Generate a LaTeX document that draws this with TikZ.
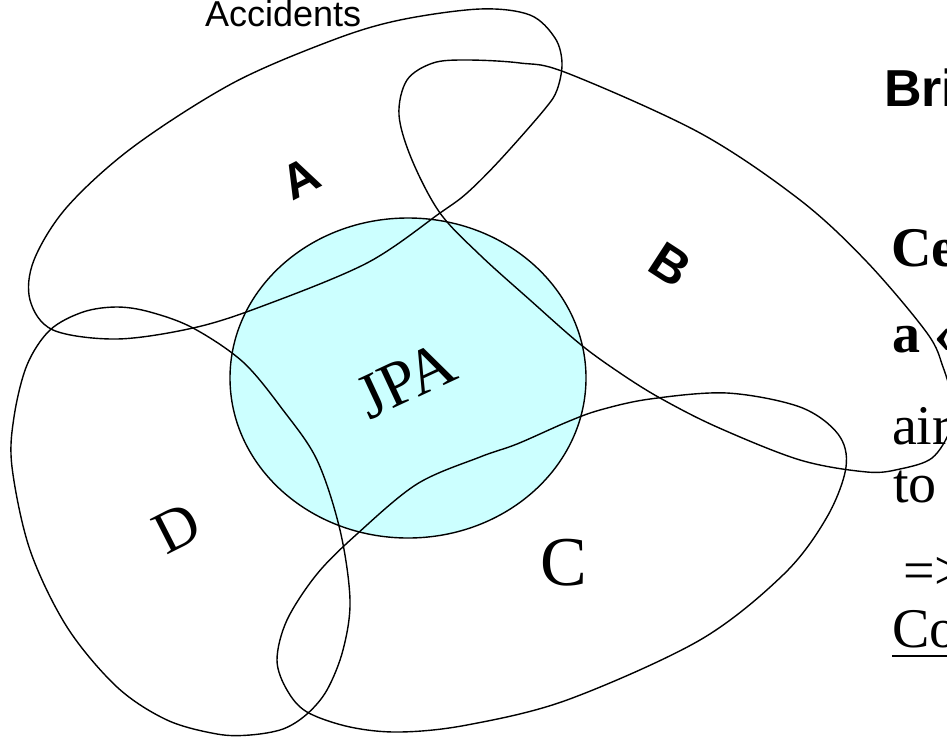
\documentclass[tikz,border=0pt]{standalone}
\usepackage{fontspec}
\newfontfamily\arialf{Liberation Sans}
\newfontfamily\timesf{Liberation Serif}
\definecolor{jpacyan}{RGB}{204,255,255}
\begin{document}
\begin{tikzpicture}[x=1pt,y=-1pt,
  curve/.style={line width=1.4pt, draw=black, line join=round},
  lbl/.style={inner sep=0pt, outer sep=0pt},
  sansbig/.style={lbl, font=\arialf\bfseries\fontsize{49}{55}\selectfont},
  serifbig/.style={lbl, font=\timesf\fontsize{62}{70}\selectfont},
  righttxt/.style={lbl, anchor=base west, font=\timesf\fontsize{56}{62}\selectfont},
  righttxtb/.style={righttxt, font=\timesf\bfseries\fontsize{56}{62}\selectfont}]
\useasboundingbox (0,0) rectangle (947,737);
\clip (0,0) rectangle (947,737);
% JPA disc
\fill[jpacyan] (408,378) ellipse [x radius=178pt, y radius=160pt];
\draw[curve] (408,378) ellipse [x radius=178pt, y radius=160pt];
% A
\draw[curve] plot[smooth cycle, tension=0.55] coordinates {
 (400,20) (480,9) (530,15) (555,38) (562,63) (557,90) (544,110) (500,160)
 (467,193) (440,213) (367,263) (260,307) (193,328) (117,339) (53,330)
 (30,300) (34,260) (67,207) (133,147) (233,83) (333,40)};
% B
\draw[curve] plot[smooth cycle, tension=0.55] coordinates {
 (467,60) (520,63) (567,73) (700,133) (800,200) (867,262) (927,333)
 (943,367) (952,400) (950,430) (932,458) (900,469) (867,472) (800,460)
 (717,427) (660,398) (620,373) (580,344) (530,300) (480,255) (440,213)
 (412,160) (399,115) (407,80) (433,63)};
% C
\draw[curve] plot[smooth cycle, tension=0.55] coordinates {
 (727,393) (800,407) (838,434) (846,467) (827,517) (784,574) (700,640)
 (567,700) (467,725) (400,732) (350,727) (307,712) (287,690) (277,660)
 (287,620) (317,574) (357,534) (417,484) (480,457) (517,444) (567,422)
 (600,410) (650,399)};
% D
\draw[curve] plot[smooth cycle, tension=0.55] coordinates {
 (117,307) (150,312) (193,328) (243,362) (283,410) (317,460) (340,530)
 (350,600) (343,650) (327,690) (307,714) (283,729) (250,735) (217,734)
 (167,720) (117,687) (67,627) (30,550) (12,467) (14,417) (27,365)
 (50,330) (83,312)};
% labels
\node[lbl, anchor=base west, font=\arialf\fontsize{36}{40}\selectfont] (acc) at (205,26) {Accidents};
\node[sansbig, rotate=27] (la) at (301,178) {A};
\node[sansbig, rotate=-33, font=\arialf\bfseries\fontsize{51}{57}\selectfont] (lb) at (670,265) {B};
\node[serifbig, rotate=25, font=\timesf\fontsize{64}{70}\selectfont] (jpa) at (406,380) {JPA};
\node[serifbig, rotate=27, font=\timesf\fontsize{60}{70}\selectfont] (ld) at (177,528) {D};
\node[serifbig, font=\timesf\fontsize{70}{80}\selectfont] (lc) at (564,563) {C};
% right-hand text (cut off by the picture edge)
\node[lbl, anchor=base west, font=\arialf\bfseries\fontsize{52}{60}\selectfont] (bri) at (884,106) {Bri};
\node[righttxtb] (ce) at (891,266) {Ce};
\node[righttxtb] (aq) at (892,352) {a «};
\node[righttxt] (air) at (892,444) {air};
\node[righttxt] (to) at (893,502) {to};
\node[righttxt] (arr) at (903,589) {=>};
\node[righttxt] (co) at (892,647) {Co};
\draw[line width=2.5pt] ([yshift=-9pt]co.base west) -- ([yshift=-9pt,xshift=80pt]co.base west);
\end{tikzpicture}
\end{document}
